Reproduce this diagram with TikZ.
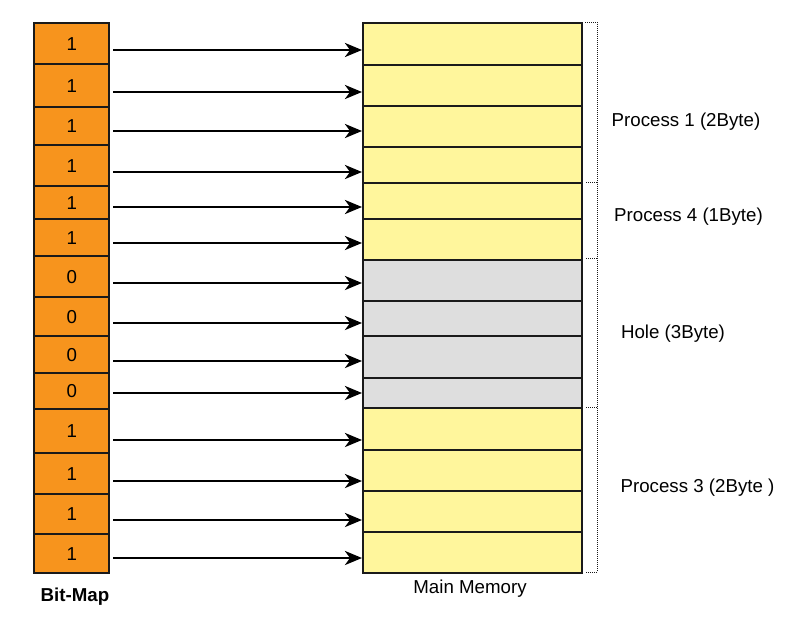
\documentclass[tikz,border=0pt]{standalone}
\usepackage{fontspec}
\setmainfont{Liberation Sans}
\usetikzlibrary{arrows.meta}
\definecolor{bitorange}{HTML}{F7941D}
\definecolor{memyellow}{HTML}{FFF69C}
\definecolor{memgray}{HTML}{DEDEDE}
\definecolor{edge}{HTML}{1A1A1A}
\tikzset{
  bitcell/.style={draw=edge, line width=2.4pt, fill=bitorange, minimum width=75pt, inner sep=0pt, anchor=north west, font=\fontsize{18.7}{22}\selectfont},
  memcell/.style={draw=edge, line width=1.5pt, minimum width=219pt, inner sep=0pt, anchor=north west},
  maparrow/.style={line width=2.7pt, -{Stealth[length=17pt,width=14pt,inset=5pt]}},
  bracket/.style={line width=1pt, dash pattern=on 1pt off 1pt, draw=edge},
  lbl/.style={font=\fontsize{18.7}{22}\selectfont, inner sep=0pt}
}
\begin{document}
\begin{tikzpicture}[x=1pt,y=-1pt]
\useasboundingbox (0,0) rectangle (800,621);
% bit-map cells
\foreach \i/\t/\b/\v in {1/22/63/1,2/63/106/1,3/106/144/1,4/144/185/1,5/185/218/1,6/218/255/1,7/255/296/0,8/296/335/0,9/335/372/0,10/372/408/0,11/408/452/1,12/452/493/1,13/493/533/1,14/533/572/1}{
  \pgfmathsetmacro\h{\b-\t}
  \node[bitcell, minimum height=\h pt] (b\i) at (33,\t) {\raisebox{-3.5pt}{\v}};
}
% memory cells
\foreach \i/\t/\b/\c in {1/22/64/memyellow,2/64/105/memyellow,3/105/146/memyellow,4/146/182/memyellow,5/182/218/memyellow,6/218/259/memyellow,7/259/300/memgray,8/300/335/memgray,9/335/377/memgray,10/377/407/memgray,11/407/449/memyellow,12/449/490/memyellow,13/490/531/memyellow,14/531/572/memyellow}{
  \pgfmathsetmacro\h{\b-\t}
  \node[memcell, fill=\c, minimum height=\h pt] (m\i) at (362,\t) {};
}
% arrows
\foreach \i/\y in {1/50,2/92,3/131,4/172,5/207,6/243,7/283,8/323,9/361,10/393,11/440,12/481,13/520,14/558}{
  \coordinate (s\i) at (113,\y);
  \draw[maparrow] (s\i) -- (m\i.west |- s\i);
}
% dotted bracket
\coordinate (bt) at (585,22);
\coordinate (bb) at (585,572);
\draw[bracket] (bt) -- (597,22) -- (597,572) -- (bb);
\foreach \y in {182,258,407}{
  \draw[bracket] (586,\y) -- (597,\y);
}
% labels
\node[lbl] (l1) at (686,122) {Process 1 (2Byte)};
\node[lbl] (l2) at (688.5,217) {Process 4 (1Byte)};
\node[lbl] (l3) at (673,334) {Hole (3Byte)};
\node[lbl] (l4) at (697.5,488) {Process 3 (2Byte )};
\node[lbl] (mm) at (470,589) {Main Memory};
\node[lbl, font=\fontsize{18.7}{22}\selectfont\bfseries] (bm) at (75,597) {Bit-Map};
\end{tikzpicture}
\end{document}
